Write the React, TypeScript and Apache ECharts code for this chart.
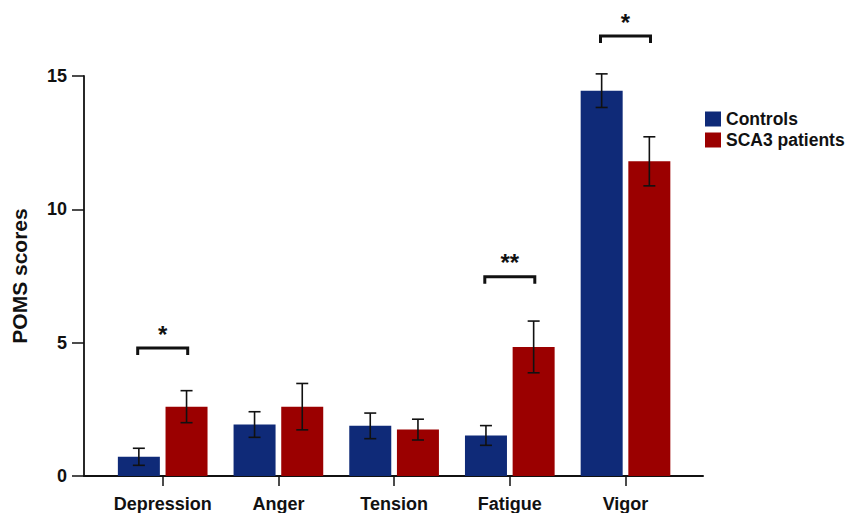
import React, { useEffect, useRef } from "react";
import * as echarts from "echarts";

const categories = ["Depression", "Anger", "Tension", "Fatigue", "Vigor"];
const seriesNames = ["Controls", "SCA3 patients"];
const controlsMean = [0.72, 1.93, 1.88, 1.52, 14.45];
const controlsErr = [0.32, 0.48, 0.48, 0.37, 0.63];
const patientsMean = [2.6, 2.6, 1.74, 4.84, 11.8];
const patientsErr = [0.6, 0.87, 0.39, 0.97, 0.92];
const sigCategoryIdx = [0, 3, 4];
const sigHeights = [4.8, 7.47, 16.5];
const sigLabels = ["*", "**", "*"];
const yMin = 0;
const yMax = 15;
const yInterval = 5;

const BLUE = "#0f2a78";
const RED = "#9b0000";
const FONT = "Arial, 'Liberation Sans', sans-serif";
const OFFSET = 23.85;

function errorSeries(means: number[], errs: number[], sign: number) {
  return {
    type: "custom",
    xAxisIndex: 1,
    yAxisIndex: 1,
    z: 5,
    silent: true,
    data: means.map((m, i) => [i, m - errs[i], m + errs[i]]),
    renderItem: (params: any, api: any) => {
      const lo = api.coord([api.value(0), api.value(1)]);
      const hi = api.coord([api.value(0), api.value(2)]);
      const cx = lo[0] + sign * OFFSET;
      const cap = 6;
      const st = { stroke: "#111", lineWidth: 1.6 };
      return {
        type: "group",
        children: [
          { type: "line", shape: { x1: cx, y1: lo[1], x2: cx, y2: hi[1] }, style: st },
          { type: "line", shape: { x1: cx - cap, y1: lo[1], x2: cx + cap, y2: lo[1] }, style: st },
          { type: "line", shape: { x1: cx - cap, y1: hi[1], x2: cx + cap, y2: hi[1] }, style: st },
        ],
      };
    },
  };
}

export default function App() {
  const ref = useRef<HTMLDivElement>(null);
  useEffect(() => {
    if (!ref.current) return;
    const chart = echarts.init(ref.current, undefined, { renderer: "svg" });
    const option: any = {
      animation: false,
      backgroundColor: "#ffffff",
      textStyle: { fontFamily: FONT },
      legend: {
        data: seriesNames,
        orient: "vertical",
        left: 705,
        top: 109,
        padding: 0,
        icon: "rect",
        itemWidth: 16,
        itemHeight: 15,
        itemGap: 1,
        textStyle: { fontSize: 17.5, lineHeight: 20, fontWeight: "bold", color: "#111", fontFamily: FONT },
      },
      grid: [
        { left: 84, right: 144, top: 76, bottom: 37 },
        { left: 104.85, width: 578.5, top: 76, bottom: 37 },
      ],
      xAxis: [
        {
          gridIndex: 0,
          type: "value",
          min: 0,
          max: 1,
          axisLine: { show: true, lineStyle: { color: "#111", width: 2 } },
          axisTick: { show: false },
          axisLabel: { show: false },
          splitLine: { show: false },
        },
        {
          gridIndex: 1,
          type: "category",
          data: categories,
          axisLine: { show: false },
          axisTick: { show: true, alignWithLabel: true, interval: 0, length: 10, lineStyle: { color: "#111", width: 1.5 } },
          axisLabel: { interval: 0, fontSize: 18, fontWeight: "bold", color: "#111", margin: 19, fontFamily: FONT },
          splitLine: { show: false },
        },
      ],
      yAxis: [
        {
          gridIndex: 0,
          type: "value",
          min: yMin,
          max: yMax,
          interval: yInterval,
          name: "POMS scores",
          nameLocation: "middle",
          nameGap: 54,
          nameTextStyle: { fontSize: 21, fontWeight: "bold", color: "#111", fontFamily: FONT },
          axisLine: { show: true, lineStyle: { color: "#111", width: 1.8 } },
          axisTick: { show: true, length: 12, lineStyle: { color: "#111", width: 1.5 } },
          axisLabel: { fontSize: 18, fontWeight: "bold", color: "#111", margin: 17, fontFamily: FONT },
          splitLine: { show: false },
        },
        {
          gridIndex: 1,
          type: "value",
          min: yMin,
          max: yMax,
          show: false,
          splitLine: { show: false },
        },
      ],
      series: [
        {
          name: seriesNames[0],
          type: "bar",
          xAxisIndex: 1,
          yAxisIndex: 1,
          data: controlsMean,
          barWidth: 42,
          barGap: "13.5%",
          itemStyle: { color: BLUE },
        },
        {
          name: seriesNames[1],
          type: "bar",
          xAxisIndex: 1,
          yAxisIndex: 1,
          data: patientsMean,
          barWidth: 42,
          barGap: "13.5%",
          itemStyle: { color: RED },
        },
        errorSeries(controlsMean, controlsErr, -1),
        errorSeries(patientsMean, patientsErr, 1),
        {
          type: "custom",
          xAxisIndex: 1,
          yAxisIndex: 1,
          z: 6,
          clip: false,
          silent: true,
          data: sigCategoryIdx.map((c, i) => [c, sigHeights[i]]),
          renderItem: (params: any, api: any) => {
            const p = api.coord([api.value(0), api.value(1)]);
            const x1 = p[0] - 25;
            const x2 = p[0] + 25;
            const y = p[1];
            return {
              type: "group",
              children: [
                {
                  type: "polyline",
                  shape: { points: [[x1, y + 7], [x1, y], [x2, y], [x2, y + 7]] },
                  style: { stroke: "#111", lineWidth: 3, fill: "none" },
                },
                {
                  type: "text",
                  x: p[0],
                  y: y - 14,
                  style: {
                    text: sigLabels[params.dataIndex],
                    fontSize: 24,
                    fontWeight: "bold",
                    fill: "#111",
                    align: "center",
                    verticalAlign: "middle",
                    fontFamily: FONT,
                  },
                },
              ],
            };
          },
        },
      ],
    };
    chart.setOption(option);
    return () => chart.dispose();
  }, []);
  return (
    <div
      ref={ref}
      style={{ position: "fixed", left: 0, top: 0, width: 847, height: 513, background: "#fff" }}
    />
  );
}
